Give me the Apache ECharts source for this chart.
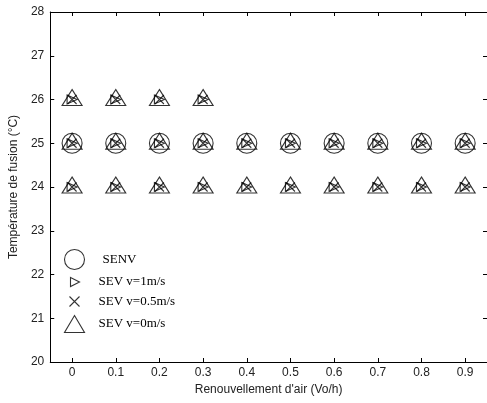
<!DOCTYPE html>
<html><head><meta charset="utf-8">
<script src="https://cdn.jsdelivr.net/npm/echarts@6/dist/echarts.min.js"></script>
<style>html,body{margin:0;padding:0;background:#fff}#c{width:487px;height:403px}</style>
</head><body><div id="c"></div>
<script>
const xVals = [0, 0.1, 0.2, 0.3, 0.4, 0.5, 0.6, 0.7, 0.8, 0.9];
const xTicks = [0, 0.1, 0.2, 0.3, 0.4, 0.5, 0.6, 0.7, 0.8, 0.9];
const senv = [25, 25, 25, 25, 25, 25, 25, 25, 25, 25];
const sevRow24 = [24, 24, 24, 24, 24, 24, 24, 24, 24, 24];
const sevRow25 = [25, 25, 25, 25, 25, 25, 25, 25, 25, 25];
const sevRow26 = [26, 26, 26, 26, null, null, null, null, null, null];
const seriesNames = ['SENV', 'SEV v=1m/s', 'SEV v=0.5m/s', 'SEV v=0m/s'];

function pts(rows) {
  const out = [];
  rows.forEach(r => r.forEach((v, i) => { if (v !== null) out.push([xVals[i], v]); }));
  return out;
}
const sevData = pts([sevRow24, sevRow25, sevRow26]);
const senvData = pts([senv]);

const XPATH = 'path://M0,0L10,10M10,0L0,10';
const RTRI = 'path://M0,0L10,5L0,10Z';
const mk = { color: 'none', borderColor: '#000', borderWidth: 1.1 };
const axisLine = { show: true, onZero: false, lineStyle: { color: '#000', width: 1 } };
const tickIn = { inside: true, length: 4, lineStyle: { color: '#000' } };
const lblFont = { fontFamily: 'Liberation Sans', fontSize: 12, color: '#222' };
const legFont = { fontFamily: 'Liberation Serif', fontSize: 13, color: '#000' };

const chart = echarts.init(document.getElementById('c'));
chart.setOption({
  animation: false,
  backgroundColor: '#fff',
  grid: { left: 48, right: -3, top: 12, bottom: 41 },
  xAxis: [
    { type: 'value', min: -0.05, max: 0.95, position: 'bottom',
      axisLine, splitLine: { show: false },
      axisTick: Object.assign({ customValues: xTicks }, tickIn),
      axisLabel: Object.assign({ customValues: xTicks, margin: 5 }, lblFont),
      name: "Renouvellement d'air (Vo/h)", nameLocation: 'middle', nameGap: 22,
      nameTextStyle: lblFont },
    { type: 'value', min: -0.05, max: 0.95, position: 'top',
      axisLine, splitLine: { show: false },
      axisTick: Object.assign({ customValues: xTicks }, tickIn),
      axisLabel: { show: false } }
  ],
  yAxis: [
    { type: 'value', min: 20, max: 28, interval: 1, position: 'left',
      axisLine, splitLine: { show: false }, axisTick: tickIn,
      axisLabel: Object.assign({ margin: 6 }, lblFont),
      name: 'Température de fusion (°C)', nameLocation: 'middle', nameGap: 26,
      nameTextStyle: lblFont },
    { type: 'value', min: 20, max: 28, interval: 1, position: 'right',
      axisLine, splitLine: { show: false }, axisTick: tickIn,
      axisLabel: { show: false } }
  ],
  legend: [
    { left: 62, top: 247, padding: 0, itemWidth: 20, itemHeight: 20, data: [{ name: seriesNames[0], icon: 'circle', itemStyle: mk }],
      textStyle: Object.assign({ padding: [0, 0, 4, 13] }, legFont), selectedMode: false },
    { left: 68, top: 275, padding: 0, itemWidth: 9, itemHeight: 9, data: [{ name: seriesNames[1], icon: RTRI, itemStyle: mk }],
      textStyle: Object.assign({ padding: [0, 0, 4, 14] }, legFont), selectedMode: false },
    { left: 67, top: 294, padding: 0, itemWidth: 10, itemHeight: 10, data: [{ name: seriesNames[2], icon: XPATH, itemStyle: mk }],
      textStyle: Object.assign({ padding: [0, 0, 0, 14] }, legFont), selectedMode: false },
    { left: 62, top: 313, padding: 0, itemWidth: 20, itemHeight: 17, data: [{ name: seriesNames[3], icon: 'triangle', itemStyle: mk }],
      textStyle: Object.assign({ padding: [0, 0, 0, 9] }, legFont), selectedMode: false }
  ],
  series: [
    { name: seriesNames[0], type: 'scatter', data: senvData, symbol: 'circle', symbolSize: 20, itemStyle: mk },
    { name: seriesNames[1], type: 'scatter', data: sevData, symbol: RTRI, symbolSize: [10, 9], itemStyle: mk },
    { name: seriesNames[2], type: 'scatter', data: sevData, symbol: XPATH, symbolSize: 9, itemStyle: mk },
    { name: seriesNames[3], type: 'scatter', data: sevData, symbol: 'triangle', symbolSize: [20, 16], symbolOffset: [0, -2], itemStyle: mk }
  ]
});
</script></body></html>
